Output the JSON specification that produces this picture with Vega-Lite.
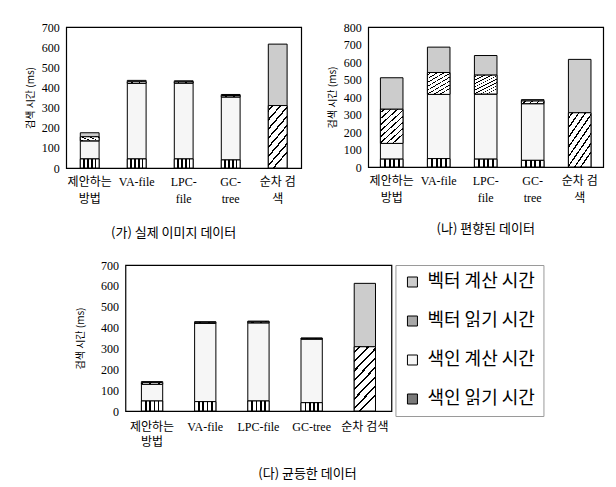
{
  "$schema": "https://vega.github.io/schema/vega-lite/v6.json",
  "padding": {"left": 24, "top": 20, "right": 5, "bottom": 5},
  "background": "white",
  "datasets": {
    "d": [
      {"panel": "A", "method": "제안하는 방법", "component": "색인 읽기 시간", "order": 1, "value": 45},
      {"panel": "A", "method": "제안하는 방법", "component": "색인 계산 시간", "order": 2, "value": 90},
      {"panel": "A", "method": "제안하는 방법", "component": "벡터 읽기 시간", "order": 3, "value": 20},
      {"panel": "A", "method": "제안하는 방법", "component": "벡터 계산 시간", "order": 4, "value": 20},
      {"panel": "A", "method": "VA-file", "component": "색인 읽기 시간", "order": 1, "value": 45},
      {"panel": "A", "method": "VA-file", "component": "색인 계산 시간", "order": 2, "value": 375},
      {"panel": "A", "method": "VA-file", "component": "벡터 읽기 시간", "order": 3, "value": 8},
      {"panel": "A", "method": "VA-file", "component": "벡터 계산 시간", "order": 4, "value": 7},
      {"panel": "A", "method": "LPC-file", "component": "색인 읽기 시간", "order": 1, "value": 45},
      {"panel": "A", "method": "LPC-file", "component": "색인 계산 시간", "order": 2, "value": 377},
      {"panel": "A", "method": "LPC-file", "component": "벡터 읽기 시간", "order": 3, "value": 6},
      {"panel": "A", "method": "LPC-file", "component": "벡터 계산 시간", "order": 4, "value": 5},
      {"panel": "A", "method": "GC-tree", "component": "색인 읽기 시간", "order": 1, "value": 40},
      {"panel": "A", "method": "GC-tree", "component": "색인 계산 시간", "order": 2, "value": 313},
      {"panel": "A", "method": "GC-tree", "component": "벡터 읽기 시간", "order": 3, "value": 7},
      {"panel": "A", "method": "GC-tree", "component": "벡터 계산 시간", "order": 4, "value": 5},
      {"panel": "A", "method": "순차 검색", "component": "벡터 읽기 시간", "order": 3, "value": 310},
      {"panel": "A", "method": "순차 검색", "component": "벡터 계산 시간", "order": 4, "value": 305},

      {"panel": "B", "method": "제안하는 방법", "component": "색인 읽기 시간", "order": 1, "value": 45},
      {"panel": "B", "method": "제안하는 방법", "component": "색인 계산 시간", "order": 2, "value": 90},
      {"panel": "B", "method": "제안하는 방법", "component": "벡터 읽기 시간", "order": 3, "value": 195},
      {"panel": "B", "method": "제안하는 방법", "component": "벡터 계산 시간", "order": 4, "value": 180},
      {"panel": "B", "method": "VA-file", "component": "색인 읽기 시간", "order": 1, "value": 48},
      {"panel": "B", "method": "VA-file", "component": "색인 계산 시간", "order": 2, "value": 367},
      {"panel": "B", "method": "VA-file", "component": "벡터 읽기 시간", "order": 3, "value": 125},
      {"panel": "B", "method": "VA-file", "component": "벡터 계산 시간", "order": 4, "value": 145},
      {"panel": "B", "method": "LPC-file", "component": "색인 읽기 시간", "order": 1, "value": 45},
      {"panel": "B", "method": "LPC-file", "component": "색인 계산 시간", "order": 2, "value": 372},
      {"panel": "B", "method": "LPC-file", "component": "벡터 읽기 시간", "order": 3, "value": 108},
      {"panel": "B", "method": "LPC-file", "component": "벡터 계산 시간", "order": 4, "value": 112},
      {"panel": "B", "method": "GC-tree", "component": "색인 읽기 시간", "order": 1, "value": 38},
      {"panel": "B", "method": "GC-tree", "component": "색인 계산 시간", "order": 2, "value": 324},
      {"panel": "B", "method": "GC-tree", "component": "벡터 읽기 시간", "order": 3, "value": 15},
      {"panel": "B", "method": "GC-tree", "component": "벡터 계산 시간", "order": 4, "value": 8},
      {"panel": "B", "method": "순차 검색", "component": "벡터 읽기 시간", "order": 3, "value": 310},
      {"panel": "B", "method": "순차 검색", "component": "벡터 계산 시간", "order": 4, "value": 305},

      {"panel": "C", "method": "제안하는 방법", "component": "색인 읽기 시간", "order": 1, "value": 48},
      {"panel": "C", "method": "제안하는 방법", "component": "색인 계산 시간", "order": 2, "value": 80},
      {"panel": "C", "method": "제안하는 방법", "component": "벡터 읽기 시간", "order": 3, "value": 8},
      {"panel": "C", "method": "제안하는 방법", "component": "벡터 계산 시간", "order": 4, "value": 5},
      {"panel": "C", "method": "VA-file", "component": "색인 읽기 시간", "order": 1, "value": 45},
      {"panel": "C", "method": "VA-file", "component": "색인 계산 시간", "order": 2, "value": 375},
      {"panel": "C", "method": "VA-file", "component": "벡터 읽기 시간", "order": 3, "value": 5},
      {"panel": "C", "method": "VA-file", "component": "벡터 계산 시간", "order": 4, "value": 3},
      {"panel": "C", "method": "LPC-file", "component": "색인 읽기 시간", "order": 1, "value": 48},
      {"panel": "C", "method": "LPC-file", "component": "색인 계산 시간", "order": 2, "value": 375},
      {"panel": "C", "method": "LPC-file", "component": "벡터 읽기 시간", "order": 3, "value": 5},
      {"panel": "C", "method": "LPC-file", "component": "벡터 계산 시간", "order": 4, "value": 3},
      {"panel": "C", "method": "GC-tree", "component": "색인 읽기 시간", "order": 1, "value": 40},
      {"panel": "C", "method": "GC-tree", "component": "색인 계산 시간", "order": 2, "value": 305},
      {"panel": "C", "method": "GC-tree", "component": "벡터 읽기 시간", "order": 3, "value": 3},
      {"panel": "C", "method": "GC-tree", "component": "벡터 계산 시간", "order": 4, "value": 2},
      {"panel": "C", "method": "순차 검색", "component": "벡터 읽기 시간", "order": 3, "value": 308},
      {"panel": "C", "method": "순차 검색", "component": "벡터 계산 시간", "order": 4, "value": 304}
    ]
  },
  "config": {
    "view": {"stroke": "black", "strokeWidth": 1.2},
    "axis": {
      "domain": false, "ticks": false, "grid": false,
      "labelFont": "Liberation Serif, Noto Sans CJK KR", "labelFontSize": 12, "labelColor": "black",
      "titleFont": "Noto Sans CJK KR", "titleFontSize": 10, "titleFontWeight": "normal", "titleColor": "black"
    },
    "axisX": {"labelAngle": 0, "labelPadding": 8, "labelLineHeight": 17},
    "axisY": {"labelPadding": 7, "titlePadding": 6},
    "title": {"font": "Noto Sans CJK KR", "fontSize": 13, "fontWeight": "normal", "color": "black"},
    "bar": {"stroke": "black", "strokeWidth": 1}
  },
  "resolve": {"scale": {"color": "independent"}, "legend": {"color": "independent"}},
  "center": true,
  "spacing": 17,
  "vconcat": [
    {
      "spacing": 24,
      "resolve": {"scale": {"color": "independent"}, "legend": {"color": "independent"}},
      "hconcat": [
        {
          "data": {"name": "d"},
          "transform": [{"filter": "datum.panel == 'A'"},
                        {"stack": "value", "groupby": ["method"], "sort": [{"field": "order", "order": "ascending"}], "as": ["v0", "v1"]}],
          "width": 235, "height": 141,
          "title": {"text": "(가) 실제 이미지 데이터", "orient": "bottom", "offset": 23, "dx": -10},
          "encoding": {
            "x": {"field": "method", "type": "nominal", "sort": ["제안하는 방법", "VA-file", "LPC-file", "GC-tree", "순차 검색"], "title": null,
                  "scale": {"paddingInner": 0.6, "paddingOuter": 0.3},
                  "axis": {"labelExpr": "datum.value == '제안하는 방법' ? ['제안하는','방법'] : datum.value == 'LPC-file' ? ['LPC-','file'] : datum.value == 'GC-tree' ? ['GC-','tree'] : datum.value == '순차 검색' ? ['순차 검','색'] : datum.value"}},
            "y": {"field": "v0", "type": "quantitative", "title": "검색 시간 (ms)",
                  "scale": {"domain": [0, 700], "nice": false},
                  "axis": {"values": [0, 100, 200, 300, 400, 500, 600, 700]}},
            "y2": {"field": "v1"}
          },
          "layer": [
            {"mark": {"type": "bar"},
             "encoding": {"color": {"field": "component", "type": "nominal", "legend": null,
                      "scale": {"domain": ["벡터 계산 시간", "벡터 읽기 시간", "색인 계산 시간", "색인 읽기 시간"],
                                "range": ["#cccccc", "#a8a8a8", "#f6f6f6", "#7a7a7a"]}}}},
            {"transform": [{"filter": "datum.component == '색인 읽기 시간'"}],
             "mark": {"type": "bar", "fill": {"gradient": "linear", "x1": 0, "y1": 0, "x2": 1, "y2": 0, "stops": [
                {"offset": 0, "color": "white"}, {"offset": 0.17, "color": "white"}, {"offset": 0.17, "color": "black"}, {"offset": 0.25, "color": "black"}, {"offset": 0.25, "color": "white"},
                {"offset": 0.37, "color": "white"}, {"offset": 0.37, "color": "black"}, {"offset": 0.45, "color": "black"}, {"offset": 0.45, "color": "white"},
                {"offset": 0.57, "color": "white"}, {"offset": 0.57, "color": "black"}, {"offset": 0.65, "color": "black"}, {"offset": 0.65, "color": "white"},
                {"offset": 0.77, "color": "white"}, {"offset": 0.77, "color": "black"}, {"offset": 0.85, "color": "black"}, {"offset": 0.85, "color": "white"}, {"offset": 1, "color": "white"}]}}},
            {"transform": [{"filter": "datum.component == '벡터 읽기 시간'"}],
             "mark": {"type": "bar", "fill": {"gradient": "linear", "x1": 0, "y1": 0, "x2": 0.35, "y2": 1, "stops": [
                {"offset": 0, "color": "white"}, {"offset": 0.06, "color": "white"}, {"offset": 0.06, "color": "black"}, {"offset": 0.09, "color": "black"}, {"offset": 0.09, "color": "white"},
                {"offset": 0.19, "color": "white"}, {"offset": 0.19, "color": "black"}, {"offset": 0.22, "color": "black"}, {"offset": 0.22, "color": "white"},
                {"offset": 0.32, "color": "white"}, {"offset": 0.32, "color": "black"}, {"offset": 0.35, "color": "black"}, {"offset": 0.35, "color": "white"},
                {"offset": 0.45, "color": "white"}, {"offset": 0.45, "color": "black"}, {"offset": 0.48, "color": "black"}, {"offset": 0.48, "color": "white"},
                {"offset": 0.58, "color": "white"}, {"offset": 0.58, "color": "black"}, {"offset": 0.61, "color": "black"}, {"offset": 0.61, "color": "white"},
                {"offset": 0.71, "color": "white"}, {"offset": 0.71, "color": "black"}, {"offset": 0.74, "color": "black"}, {"offset": 0.74, "color": "white"},
                {"offset": 0.84, "color": "white"}, {"offset": 0.84, "color": "black"}, {"offset": 0.87, "color": "black"}, {"offset": 0.87, "color": "white"},
                {"offset": 0.96, "color": "white"}, {"offset": 0.96, "color": "black"}, {"offset": 0.99, "color": "black"}, {"offset": 0.99, "color": "white"}, {"offset": 1, "color": "white"}]}}}
          ]
        },
        {
          "data": {"name": "d"},
          "transform": [{"filter": "datum.panel == 'B'"},
                        {"stack": "value", "groupby": ["method"], "sort": [{"field": "order", "order": "ascending"}], "as": ["v0", "v1"]}],
          "width": 235, "height": 140,
          "title": {"text": "(나) 편향된 데이터", "orient": "bottom", "offset": 20},
          "encoding": {
            "x": {"field": "method", "type": "nominal", "sort": ["제안하는 방법", "VA-file", "LPC-file", "GC-tree", "순차 검색"], "title": null,
                  "scale": {"paddingInner": 0.52, "paddingOuter": 0.26},
                  "axis": {"labelExpr": "datum.value == '제안하는 방법' ? ['제안하는','방법'] : datum.value == 'LPC-file' ? ['LPC-','file'] : datum.value == 'GC-tree' ? ['GC-','tree'] : datum.value == '순차 검색' ? ['순차 검','색'] : datum.value"}},
            "y": {"field": "v0", "type": "quantitative", "title": "검색 시간 (ms)",
                  "scale": {"domain": [0, 800], "nice": false},
                  "axis": {"values": [0, 100, 200, 300, 400, 500, 600, 700, 800]}},
            "y2": {"field": "v1"}
          },
          "layer": [
            {"mark": {"type": "bar"},
             "encoding": {"color": {"field": "component", "type": "nominal", "legend": null,
                      "scale": {"domain": ["벡터 계산 시간", "벡터 읽기 시간", "색인 계산 시간", "색인 읽기 시간"],
                                "range": ["#cccccc", "#a8a8a8", "#f6f6f6", "#7a7a7a"]}}}},
            {"transform": [{"filter": "datum.component == '색인 읽기 시간'"}],
             "mark": {"type": "bar", "fill": {"gradient": "linear", "x1": 0, "y1": 0, "x2": 1, "y2": 0, "stops": [
                {"offset": 0, "color": "white"}, {"offset": 0.17, "color": "white"}, {"offset": 0.17, "color": "black"}, {"offset": 0.25, "color": "black"}, {"offset": 0.25, "color": "white"},
                {"offset": 0.37, "color": "white"}, {"offset": 0.37, "color": "black"}, {"offset": 0.45, "color": "black"}, {"offset": 0.45, "color": "white"},
                {"offset": 0.57, "color": "white"}, {"offset": 0.57, "color": "black"}, {"offset": 0.65, "color": "black"}, {"offset": 0.65, "color": "white"},
                {"offset": 0.77, "color": "white"}, {"offset": 0.77, "color": "black"}, {"offset": 0.85, "color": "black"}, {"offset": 0.85, "color": "white"}, {"offset": 1, "color": "white"}]}}},
            {"transform": [{"filter": "datum.component == '벡터 읽기 시간'"}],
             "mark": {"type": "bar", "fill": {"gradient": "linear", "x1": 0, "y1": 0, "x2": 0.6, "y2": 1, "stops": [
                {"offset": 0, "color": "white"}, {"offset": 0.06, "color": "white"}, {"offset": 0.06, "color": "black"}, {"offset": 0.09, "color": "black"}, {"offset": 0.09, "color": "white"},
                {"offset": 0.19, "color": "white"}, {"offset": 0.19, "color": "black"}, {"offset": 0.22, "color": "black"}, {"offset": 0.22, "color": "white"},
                {"offset": 0.32, "color": "white"}, {"offset": 0.32, "color": "black"}, {"offset": 0.35, "color": "black"}, {"offset": 0.35, "color": "white"},
                {"offset": 0.45, "color": "white"}, {"offset": 0.45, "color": "black"}, {"offset": 0.48, "color": "black"}, {"offset": 0.48, "color": "white"},
                {"offset": 0.58, "color": "white"}, {"offset": 0.58, "color": "black"}, {"offset": 0.61, "color": "black"}, {"offset": 0.61, "color": "white"},
                {"offset": 0.71, "color": "white"}, {"offset": 0.71, "color": "black"}, {"offset": 0.74, "color": "black"}, {"offset": 0.74, "color": "white"},
                {"offset": 0.84, "color": "white"}, {"offset": 0.84, "color": "black"}, {"offset": 0.87, "color": "black"}, {"offset": 0.87, "color": "white"},
                {"offset": 0.96, "color": "white"}, {"offset": 0.96, "color": "black"}, {"offset": 0.99, "color": "black"}, {"offset": 0.99, "color": "white"}, {"offset": 1, "color": "white"}]}}}
          ]
        }
      ]
    },
    {
      "data": {"name": "d"},
      "transform": [{"filter": "datum.panel == 'C'"},
                    {"stack": "value", "groupby": ["method"], "sort": [{"field": "order", "order": "ascending"}], "as": ["v0", "v1"]}],
      "width": 266, "height": 146,
      "title": {"text": "(다) 균등한 데이터", "orient": "bottom", "offset": 21, "dx": 49},
      "encoding": {
        "x": {"field": "method", "type": "nominal", "sort": ["제안하는 방법", "VA-file", "LPC-file", "GC-tree", "순차 검색"], "title": null,
              "scale": {"paddingInner": 0.6, "paddingOuter": 0.3},
              "axis": {"labelLineHeight": 15, "labelPadding": 10, "labelExpr": "datum.value == '제안하는 방법' ? ['제안하는','방법'] : datum.value"}},
        "y": {"field": "v0", "type": "quantitative", "title": "검색 시간 (ms)",
              "scale": {"domain": [0, 700], "nice": false},
              "axis": {"values": [0, 100, 200, 300, 400, 500, 600, 700], "titlePadding": 15}},
        "y2": {"field": "v1"}
      },
      "layer": [
        {"mark": {"type": "bar"},
         "encoding": {"color": {"field": "component", "type": "nominal",
                  "scale": {"domain": ["벡터 계산 시간", "벡터 읽기 시간", "색인 계산 시간", "색인 읽기 시간"],
                            "range": ["#cccccc", "#a8a8a8", "#f6f6f6", "#7a7a7a"]},
                  "legend": {"title": null, "orient": "right", "offset": 4, "padding": 8,
                             "labelFont": "Noto Sans CJK KR", "labelFontSize": 18, "labelColor": "black", "labelOffset": 6,
                             "symbolType": "square", "symbolSize": 100, "symbolStrokeColor": "black", "symbolStrokeWidth": 1,
                             "rowPadding": 21, "strokeColor": "#9a9a9a"}}}},
        {"transform": [{"filter": "datum.component == '색인 읽기 시간'"}],
         "mark": {"type": "bar", "fill": {"gradient": "linear", "x1": 0, "y1": 0, "x2": 1, "y2": 0, "stops": [
            {"offset": 0, "color": "white"}, {"offset": 0.17, "color": "white"}, {"offset": 0.17, "color": "black"}, {"offset": 0.25, "color": "black"}, {"offset": 0.25, "color": "white"},
            {"offset": 0.37, "color": "white"}, {"offset": 0.37, "color": "black"}, {"offset": 0.45, "color": "black"}, {"offset": 0.45, "color": "white"},
            {"offset": 0.57, "color": "white"}, {"offset": 0.57, "color": "black"}, {"offset": 0.65, "color": "black"}, {"offset": 0.65, "color": "white"},
            {"offset": 0.77, "color": "white"}, {"offset": 0.77, "color": "black"}, {"offset": 0.85, "color": "black"}, {"offset": 0.85, "color": "white"}, {"offset": 1, "color": "white"}]}}},
        {"transform": [{"filter": "datum.component == '벡터 읽기 시간'"}],
         "mark": {"type": "bar", "fill": {"gradient": "linear", "x1": 0, "y1": 0, "x2": 0.35, "y2": 1, "stops": [
            {"offset": 0, "color": "white"}, {"offset": 0.06, "color": "white"}, {"offset": 0.06, "color": "black"}, {"offset": 0.09, "color": "black"}, {"offset": 0.09, "color": "white"},
            {"offset": 0.19, "color": "white"}, {"offset": 0.19, "color": "black"}, {"offset": 0.22, "color": "black"}, {"offset": 0.22, "color": "white"},
            {"offset": 0.32, "color": "white"}, {"offset": 0.32, "color": "black"}, {"offset": 0.35, "color": "black"}, {"offset": 0.35, "color": "white"},
            {"offset": 0.45, "color": "white"}, {"offset": 0.45, "color": "black"}, {"offset": 0.48, "color": "black"}, {"offset": 0.48, "color": "white"},
            {"offset": 0.58, "color": "white"}, {"offset": 0.58, "color": "black"}, {"offset": 0.61, "color": "black"}, {"offset": 0.61, "color": "white"},
            {"offset": 0.71, "color": "white"}, {"offset": 0.71, "color": "black"}, {"offset": 0.74, "color": "black"}, {"offset": 0.74, "color": "white"},
            {"offset": 0.84, "color": "white"}, {"offset": 0.84, "color": "black"}, {"offset": 0.87, "color": "black"}, {"offset": 0.87, "color": "white"},
            {"offset": 0.96, "color": "white"}, {"offset": 0.96, "color": "black"}, {"offset": 0.99, "color": "black"}, {"offset": 0.99, "color": "white"}, {"offset": 1, "color": "white"}]}}}
      ]
    }
  ]
}
